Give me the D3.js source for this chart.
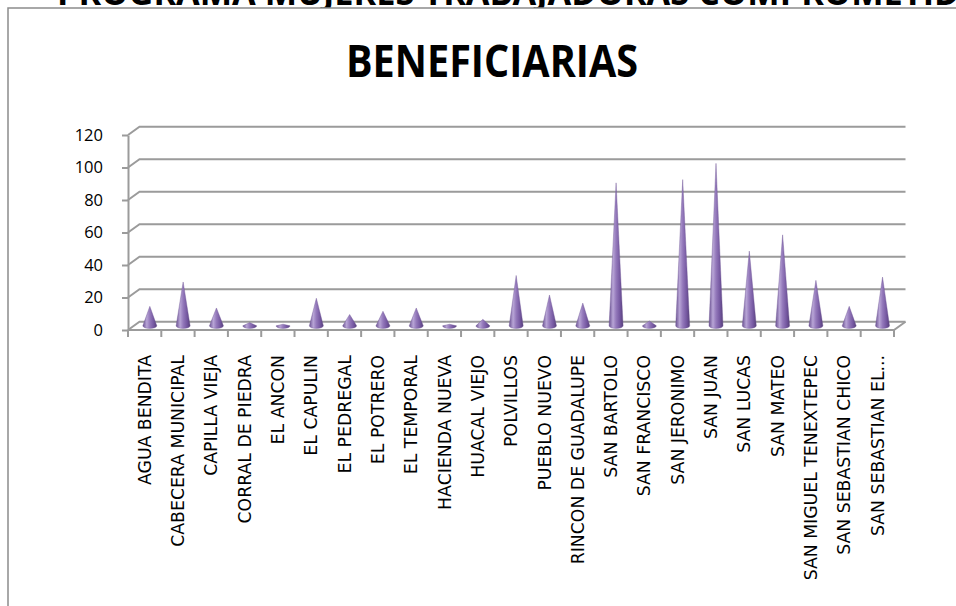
<!DOCTYPE html>
<html>
<head>
<meta charset="utf-8">
<script src="https://cdn.jsdelivr.net/npm/d3@7"></script>
<style>
  html, body { margin: 0; padding: 0; background: #ffffff; }
  svg { display: block; }
</style>
</head>
<body>
<svg id="chart" width="956" height="606"></svg>
<script>
// ---- data ----
const categories = [
  "AGUA BENDITA", "CABECERA MUNICIPAL", "CAPILLA VIEJA", "CORRAL DE PIEDRA",
  "EL ANCON", "EL CAPULIN", "EL PEDREGAL", "EL POTRERO", "EL TEMPORAL",
  "HACIENDA NUEVA", "HUACAL VIEJO", "POLVILLOS", "PUEBLO NUEVO",
  "RINCON DE GUADALUPE", "SAN BARTOLO", "SAN FRANCISCO", "SAN JERONIMO",
  "SAN JUAN", "SAN LUCAS", "SAN MATEO", "SAN MIGUEL TENEXTEPEC",
  "SAN SEBASTIAN CHICO", "SAN SEBASTIAN EL..."
];
const beneficiarias = [12, 27, 11, 2, 1, 17, 7, 9, 11, 1, 4, 31, 19, 14, 88, 3, 90, 100, 46, 56, 28, 12, 30];
const yTicks = [0, 20, 40, 60, 80, 100, 120];
const chartTitle = "BENEFICIARIAS";
const headerText = "PROGRAMA MUJERES TRABAJADORAS COMPROMETIDAS";

// ---- layout ----
const svg = d3.select("#chart");
const W = 956, H = 606;
const x0 = 128, x1 = 894, yBase = 330, yTop = 135;
const dx = 11.5, dy = -8.3;         // 3D depth offset
const gridColor = "#9b9b9b";

svg.append("rect").attr("width", W).attr("height", H).attr("fill", "#fff");

// header text above the chart (cut by the page edge, as in the reference)
svg.append("text")
  .attr("x", 57).attr("y", 5)
  .attr("textLength", 945).attr("lengthAdjust", "spacingAndGlyphs")
  .style("font-family", "'Open Sans', sans-serif")
  .style("font-weight", 700).style("font-size", "36px")
  .attr("fill", "#000").text(headerText);

// chart area border
svg.append("rect")
  .attr("x", 8).attr("y", 8).attr("width", 1100).attr("height", 800)
  .attr("fill", "#fff").attr("stroke", "#8c8c8c").attr("stroke-width", 1.5);

// title
svg.append("text")
  .attr("x", 492).attr("y", 77).attr("text-anchor", "middle")
  .attr("textLength", 292).attr("lengthAdjust", "spacingAndGlyphs")
  .style("font-family", "'Open Sans', sans-serif")
  .style("font-weight", 700).style("font-size", "45px")
  .attr("fill", "#000").text(chartTitle);

// scales
const x = d3.scaleBand().domain(categories).range([x0, x1]).paddingInner(0).paddingOuter(0);
const y = d3.scaleLinear().domain([0, 120]).range([yBase, yTop]);

// gridlines: side-wall diagonal + back wall horizontal
const grid = svg.append("g").attr("stroke", gridColor).attr("stroke-width", 2).attr("fill", "none");
yTicks.forEach(t => {
  const yy = y(t);
  grid.append("path")
    .attr("d", `M${x0},${yy}L${x0 + dx},${yy + dy}L${x1 + dx},${yy + dy}`);
});
// floor front edge + right edge
grid.append("path")
  .attr("d", `M${x0},${yBase}L${x1},${yBase}L${x1 + dx},${yBase + dy}`);

// gradient for cones
const defs = svg.append("defs");
const grad = defs.append("linearGradient").attr("id", "coneGrad")
  .attr("x1", "0%").attr("x2", "100%").attr("y1", "0%").attr("y2", "0%");
[["0%", "#6a5191"], ["28%", "#b8a5d6"], ["50%", "#9479bb"], ["78%", "#7457a0"], ["100%", "#564078"]]
  .forEach(([o, c]) => grad.append("stop").attr("offset", o).attr("stop-color", c));

// cones
const r = 7, ry = 2.6;
const cones = svg.append("g");
categories.forEach((c, i) => {
  const v = beneficiarias[i];
  const cx = x(c) + x.bandwidth() / 2 + dx * 0.45;
  const by = y(0) + dy * 0.5;
  const ty = y(v) + dy * 0.5;
  cones.append("path")
    .attr("d", `M${cx - r},${by}L${cx},${ty}L${cx + r},${by}A${r},${ry} 0 0 1 ${cx - r},${by}Z`)
    .attr("fill", "url(#coneGrad)")
    .attr("stroke", "#6e5596").attr("stroke-width", 0.4);
});

// y axis
const yAxis = d3.axisLeft(y).tickValues(yTicks).tickSize(6).tickSizeOuter(0).tickPadding(19);
const gy = svg.append("g").attr("transform", `translate(${x0},0)`).call(yAxis);
gy.selectAll("path, line").attr("stroke", gridColor).attr("stroke-width", 2);
gy.selectAll("text")
  .style("font-family", "'Open Sans', sans-serif").style("font-size", "16.5px")
  .attr("fill", "#000");

// x axis labels
const xAxis = d3.axisBottom(x).tickSize(0).tickSizeOuter(0);
const gx = svg.append("g").attr("transform", `translate(0,${yBase})`).call(xAxis);
gx.select(".domain").remove();
gx.selectAll("text")
  .attr("transform", "rotate(-90)")
  .attr("x", -25).attr("y", 0).attr("dy", "0.36em")
  .style("text-anchor", "end")
  .style("font-family", "'DejaVu Sans', sans-serif").style("font-size", "17.3px")
  .attr("fill", "#000");

// x boundary ticks
const bounds = categories.map(c => x(c)).concat([x1]);
svg.append("g").selectAll("line").data(bounds).join("line")
  .attr("x1", d => d).attr("x2", d => d)
  .attr("y1", yBase).attr("y2", yBase + 7)
  .attr("stroke", gridColor).attr("stroke-width", 2);
</script>
</body>
</html>
